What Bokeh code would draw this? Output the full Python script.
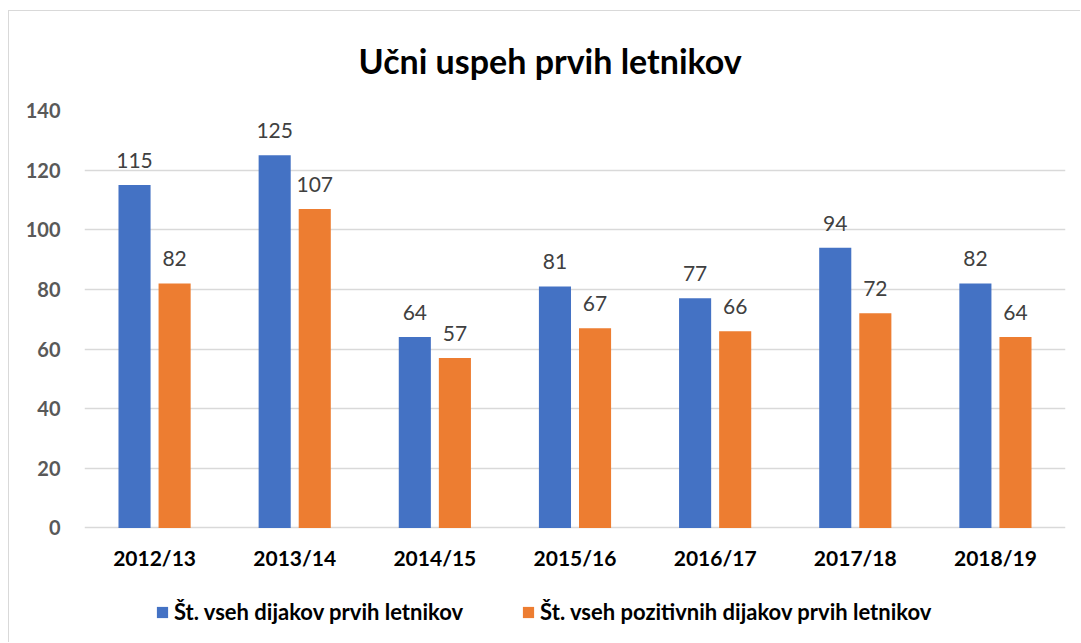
from bokeh.plotting import figure
from bokeh.models import ColumnDataSource, LabelSet, Legend, LegendItem, FactorRange, Title
from bokeh.core.properties import value
from bokeh.transform import dodge
from bokeh.embed import file_html
from bokeh.resources import INLINE

years = ["2012/13", "2013/14", "2014/15", "2015/16", "2016/17", "2017/18", "2018/19"]
vsi = [115, 125, 64, 81, 77, 94, 82]
pozitivni = [82, 107, 57, 67, 66, 72, 64]
series_names = ["Št. vseh dijakov prvih letnikov", "Št. vseh pozitivnih dijakov prvih letnikov"]
y_ticks = [0, 20, 40, 60, 80, 100, 120, 140]

FONT = "Lato"
BLUE = "#4472C4"
ORANGE = "#ED7D31"

src = ColumnDataSource(dict(years=years, vsi=vsi, pozitivni=pozitivni,
                            zero=[0] * len(years),
                            vsi_t=[str(v) for v in vsi], poz_t=[str(v) for v in pozitivni]))

p = figure(width=1072, height=632, x_range=FactorRange(*years, range_padding=0),
           y_range=(-36.09, 140), output_backend="svg", toolbar_location=None,
           x_axis_location=None,
           min_border_left=75, min_border_right=16, min_border_top=97, min_border_bottom=8)
p.styles = {"margin-left": "8px", "margin-top": "10px",
            "border-left": "1px solid #d9d9d9", "border-top": "1px solid #d9d9d9"}

t = Title(text="Učni uspeh prvih letnikov", align="left", vertical_align="top",
          text_font=FONT, text_font_size="34px", text_font_style="bold",
          text_color="#000000", standoff=56, offset=274)
p.add_layout(t, "above")

r1 = p.vbar(x=dodge("years", -0.143, range=p.x_range), top="vsi", width=0.229, source=src,
            fill_color=BLUE, line_color=None)
r2 = p.vbar(x=dodge("years", 0.143, range=p.x_range), top="pozitivni", width=0.229, source=src,
            fill_color=ORANGE, line_color=None)

for xoff, col, txt in [(-0.143, "vsi", "vsi_t"), (0.143, "pozitivni", "poz_t")]:
    lab = LabelSet(x=dodge("years", xoff, range=p.x_range), y=col, text=txt, source=src,
                   text_align="center", text_baseline="alphabetic", y_offset=17,
                   text_font_size="21px", text_color="#404040", text_font=value(FONT))
    p.add_layout(lab)

# category labels under the zero line
cat_labels = LabelSet(x="years", y="zero", text="years", source=src,
                      text_align="center", text_baseline="middle", y_offset=-30,
                      text_font_size="21px", text_font_style="bold", text_color="#000000",
                      text_font=value(FONT))
p.add_layout(cat_labels)

p.outline_line_color = None
p.xgrid.grid_line_color = None
p.ygrid.grid_line_color = "#d9d9d9"
p.ygrid.grid_line_width = 1.5
p.yaxis.ticker = y_ticks
p.yaxis.axis_line_color = None
p.yaxis.major_tick_line_color = None
p.yaxis.minor_tick_line_color = None
p.yaxis.major_label_text_font = FONT
p.yaxis.major_label_text_font_style = "bold"
p.yaxis.major_label_text_font_size = "20px"
p.yaxis.major_label_text_color = "#595959"
p.yaxis.major_label_standoff = 18

legend = Legend(items=[LegendItem(label=series_names[0], renderers=[r1]),
                       LegendItem(label=series_names[1], renderers=[r2])],
                orientation="horizontal", location=(71, 10), spacing=58,
                label_text_font=FONT, label_text_font_style="bold", label_text_font_size="22px",
                label_text_color="#000000", glyph_width=14, glyph_height=14,
                label_standoff=5, border_line_color=None, background_fill_alpha=0,
                margin=0, padding=0)
p.add_layout(legend)

open("out.html", "w").write(file_html(p, INLINE))
